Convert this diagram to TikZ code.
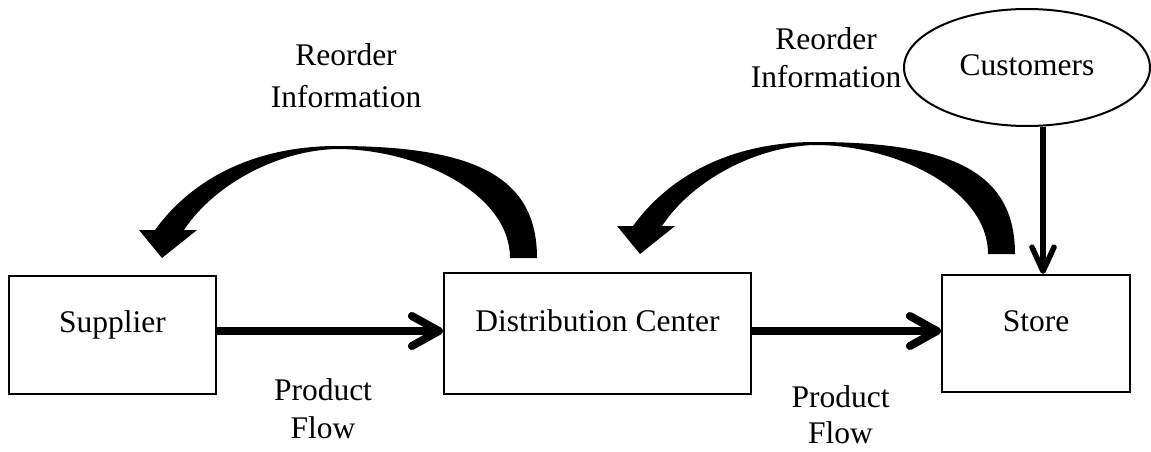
\documentclass[tikz,border=0pt]{standalone}
\usepackage{fontspec}
\setmainfont{Liberation Serif}
\usetikzlibrary{arrows.meta,shapes.geometric}

\tikzset{
  txt/.style={font=\fontsize{31.5}{38}\selectfont},
  block/.style={draw, line width=2.2pt, inner sep=0pt, txt,
    text height=22pt, text depth=27pt},
  flow/.style={line width=8pt,
    -{Straight Barb[length=27pt,width=30pt,line cap=round,line join=round]}},
  demand/.style={line width=5.5pt,
    -{Straight Barb[length=24pt,width=22pt,line cap=round,line join=round]}},
  lbl/.style={txt, align=center, inner sep=0pt, anchor=base},
  pics/reorder arrow/.style={code={
    \fill
      (0,0) .. controls (0,-80) and (-60,-112) .. (-200,-112)
            .. controls (-277,-112) and (-342,-83) .. (-382,-28)
      -- (-398,-28) -- (-375,0) -- (-340,-28) -- (-353,-28)
            .. controls (-322,-75) and (-257,-108) .. (-200,-109)
            .. controls (-120,-109) and (-27,-65) .. (-27,0)
      -- cycle;
  }}
}

\begin{document}
\begin{tikzpicture}[x=1pt, y=-1pt]
  \useasboundingbox (0,0) rectangle (1151,452);

  % the three stages of the chain
  \node[block, minimum width=207pt, minimum height=118pt] (sup) at (112.5,335) {Supplier};
  \node[block, minimum width=307pt, minimum height=121pt] (dc) at (597.5,333.5) {Distribution Center};
  \node[block, minimum width=188pt, minimum height=117pt] (st) at (1036,333.5) {Store};

  % demand source
  \node[draw, ellipse, line width=2pt, inner sep=0pt, txt,
        text height=22pt, text depth=7pt,
        minimum width=246pt, minimum height=117pt] (cust) at (1027,67.5) {Customers};

  % product flow
  \draw[flow] (sup.east |- dc.base) -- (dc.west |- dc.base);
  \draw[flow] (dc.east |- st.base) -- (st.west |- st.base);

  % customer demand into the store
  \coordinate (drop) at (1043,0);
  \draw[demand] (cust.south -| drop) -- (st.north -| drop);

  % reorder information flowing back upstream
  \coordinate (ret1) at (537,258);
  \coordinate (ret2) at (1015,254);
  \pic at (ret1) {reorder arrow};
  \pic at (ret2) {reorder arrow};

  % labels (anchored on the baseline of their last line)
  \node[lbl, font=\fontsize{31.5}{42}\selectfont] (info1) at (346,107) {Reorder\\Information};
  \node[lbl] (info2) at (826,88) {Reorder\\Information};
  \node[lbl] (pf1) at (323,438) {Product\\Flow};
  \node[lbl, font=\fontsize{31.5}{36}\selectfont] (pf2) at (840.5,443) {Product\\Flow};
\end{tikzpicture}
\end{document}
